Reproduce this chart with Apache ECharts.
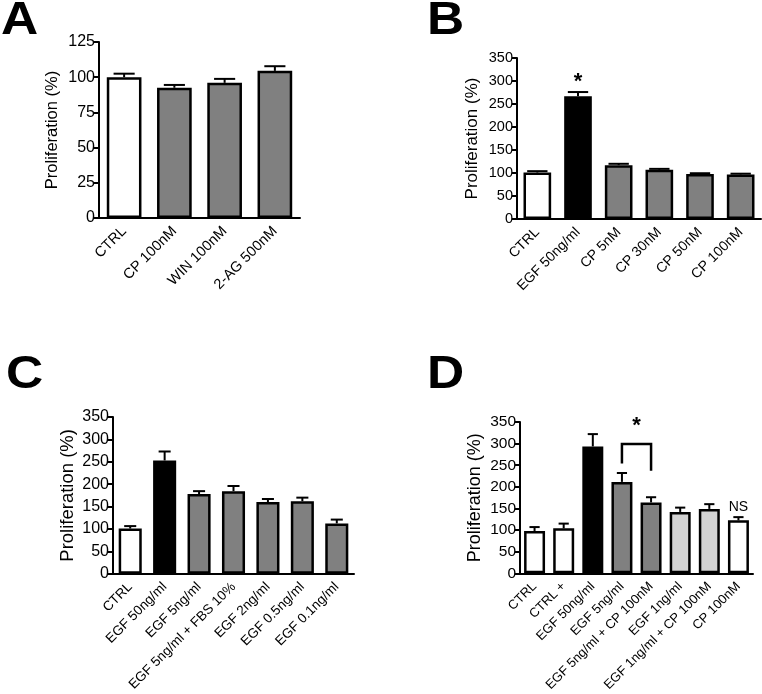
<!DOCTYPE html>
<html><head><meta charset="utf-8">
<script src="https://cdn.jsdelivr.net/npm/echarts@6/dist/echarts.min.js"></script>
<style>html,body{margin:0;padding:0;background:#fff}#c{width:762px;height:694px}</style>
</head><body><div id="c"></div>
<script>
// ---- data ----
const catsA = ['CTRL','CP 100nM','WIN 100nM','2-AG 500nM'];
const valsA = [100, 92.5, 96, 104.5];
const errA  = [2.5, 2, 2.8, 3.3];
const fillA = ['w','g','g','g'];

const catsB = ['CTRL','EGF 50ng/ml','CP 5nM','CP 30nM','CP 50nM','CP 100nM'];
const valsB = [101, 267, 117, 107, 98, 97];
const errB  = [3, 9, 3, 2, 1.5, 1.5];
const fillB = ['w','k','g','g','g','g'];

const catsC = ['CTRL','EGF 50ng/ml','EGF 5ng/ml','EGF 5ng/ml + FBS 10%','EGF 2ng/ml','EGF 0.5ng/ml','EGF 0.1ng/ml'];
const valsC = [101, 253, 178, 184.5, 160, 162, 112.5];
const errC  = [5.5, 20, 6.5, 11.5, 7, 8, 8.5];
const fillC = ['w','k','g','g','g','g','g'];

const catsD = ['CTRL','CTRL +','EGF 50ng/ml','EGF 5ng/ml','EGF 5ng/ml + CP 100nM','EGF 1ng/ml','EGF 1ng/ml + CP 100nM','CP 100nM'];
const valsD = [98, 104, 293.5, 211.5, 164, 142, 149, 122.5];
const errD  = [9, 11, 28.5, 20.5, 12, 10, 11, 7.5];
const fillD = ['w','w','k','g','g','l','l','w'];

const yTicksA = [0,25,50,75,100,125];
const yTicksBCD = [0,50,100,150,200,250,300,350];

// annotations: [panel, cat index 1, cat index 2, value, text]
const notes = [[1, 1, 1, 310, '*'], [3, 3, 4, 354, '*'], [3, 7, 7, 153, 'NS']];
// bracket in D: [left cat, right cat, top value, left end value, right end value]
const bracketD = [3, 4, 299, 254, 237];

const panelLetters = ['A','B','C','D'];

// ---- styling ----
const FONT = '"Liberation Sans", Arial, Helvetica, sans-serif';
const COLORS = {w:'#ffffff', k:'#000000', g:'#808080', l:'#d3d3d3'};
const grids = [
  {left: 99,  top: 42,  width: 201, height: 176},
  {left: 517, top: 58,  width: 244, height: 161},
  {left: 113, top: 417, width: 241, height: 160},
  {left: 520, top: 422, width: 233, height: 155}
];
const tickFont = [16, 14.5, 16, 15.5];
const catFont = [14.5, 14, 13.5, 13];
const nameFont = [16.5, 17, 18.5, 18];
const nameGap = [38, 36, 36, 36];
const capRatio = [0.42, 0.5, 0.35, 0.35];
const barW = ['69%','68%','67%','72%'];
const letterPos = [[1,-2],[427,-2],[6,352],[427,352]];

const cats = [catsA, catsB, catsC, catsD];
const vals = [valsA, valsB, valsC, valsD];
const errs = [errA, errB, errC, errD];
const fills = [fillA, fillB, fillC, fillD];
const yTicks = [yTicksA, yTicksBCD, yTicksBCD, yTicksBCD];

const xAxes = [], yAxes = [], series = [];
for (let p = 0; p < 4; p++) {
  xAxes.push({
    type: 'category', gridIndex: p, data: cats[p],
    axisLine: {lineStyle: {color: '#000', width: 2}},
    axisTick: {alignWithLabel: true, length: 5, lineStyle: {color: '#000', width: 2}},
    axisLabel: {rotate: 45, interval: 0, color: '#000', fontSize: catFont[p], fontFamily: FONT, margin: 11}
  });
  const yt = yTicks[p];
  yAxes.push({
    type: 'value', gridIndex: p, min: yt[0], max: yt[yt.length-1], interval: yt[1]-yt[0],
    name: 'Proliferation (%)', nameLocation: 'middle', nameGap: nameGap[p],
    nameTextStyle: {color: '#000', fontSize: nameFont[p], fontFamily: FONT},
    axisLine: {show: true, lineStyle: {color: '#000', width: 2}},
    axisTick: {show: true, length: 5, lineStyle: {color: '#000', width: 2}},
    axisLabel: {color: '#000', fontSize: tickFont[p], fontFamily: FONT, margin: 4},
    splitLine: {show: false}
  });
  series.push({
    type: 'bar', xAxisIndex: p, yAxisIndex: p, barWidth: barW[p],
    data: vals[p].map((v, i) => ({value: v, itemStyle: {color: COLORS[fills[p][i]]}})),
    itemStyle: {borderColor: '#000', borderWidth: 2.5},
    z: 2
  });
  const cr = capRatio[p];
  series.push({
    type: 'custom', xAxisIndex: p, yAxisIndex: p, z: 3,
    data: vals[p].map((v, i) => [i, v, errs[p][i]]),
    encode: {x: 0, y: 1},
    renderItem: function (params, api) {
      const i = api.value(0), m = api.value(1), e = api.value(2);
      const base = api.coord([i, m]);
      const top = api.coord([i, m + e]);
      const w = api.size([1, 0])[0] * cr;
      return {type: 'group', children: [
        {type: 'line', shape: {x1: base[0], y1: base[1], x2: top[0], y2: top[1]}, style: {stroke: '#000', lineWidth: 2}},
        {type: 'line', shape: {x1: top[0] - w/2, y1: top[1], x2: top[0] + w/2, y2: top[1]}, style: {stroke: '#000', lineWidth: 2}}
      ]};
    }
  });
}
// annotations
for (let p = 0; p < 4; p++) {
  const items = notes.filter(n => n[0] === p);
  if (!items.length) continue;
  series.push({
    type: 'custom', xAxisIndex: p, yAxisIndex: p, z: 4, clip: false,
    data: items.map(n => [n[1], n[3]]),
    encode: {x: 0, y: 1},
    renderItem: function (params, api) {
      const n = items[params.dataIndex];
      const a = api.coord([n[1], n[3]]), b = api.coord([n[2], n[3]]);
      const star = n[4] === '*';
      return {type: 'text', x: (a[0] + b[0]) / 2, y: a[1] + (star ? 6 : 0),
        style: {text: n[4], textAlign: 'center', textVerticalAlign: 'middle',
          font: (star ? 'bold 22px ' : '14px ') + FONT, fill: '#000'}};
    }
  });
}
series.push({
  type: 'custom', xAxisIndex: 3, yAxisIndex: 3, z: 4, clip: false,
  data: [[bracketD[0], bracketD[2]]],
  encode: {x: 0, y: 1},
  renderItem: function (params, api) {
    const d = bracketD;
    const p1 = api.coord([d[0], d[3]]), p2 = api.coord([d[0], d[2]]);
    const p3 = api.coord([d[1], d[2]]), p4 = api.coord([d[1], d[4]]);
    return {type: 'polyline', shape: {points: [p1, p2, p3, p4]}, style: {stroke: '#000', lineWidth: 2.5, fill: null}};
  }
});

const graphic = panelLetters.map((t, i) => ({
  type: 'text', x: letterPos[i][0], y: letterPos[i][1], scaleX: 1.12,
  style: {text: t, font: 'bold 46px ' + FONT, fill: '#000', textVerticalAlign: 'top'}
}));

const chart = echarts.init(document.getElementById('c'), null, {renderer: 'canvas'});
chart.setOption({
  animation: false,
  backgroundColor: '#fff',
  grid: grids,
  xAxis: xAxes,
  yAxis: yAxes,
  series: series,
  graphic: graphic
});
</script></body></html>
